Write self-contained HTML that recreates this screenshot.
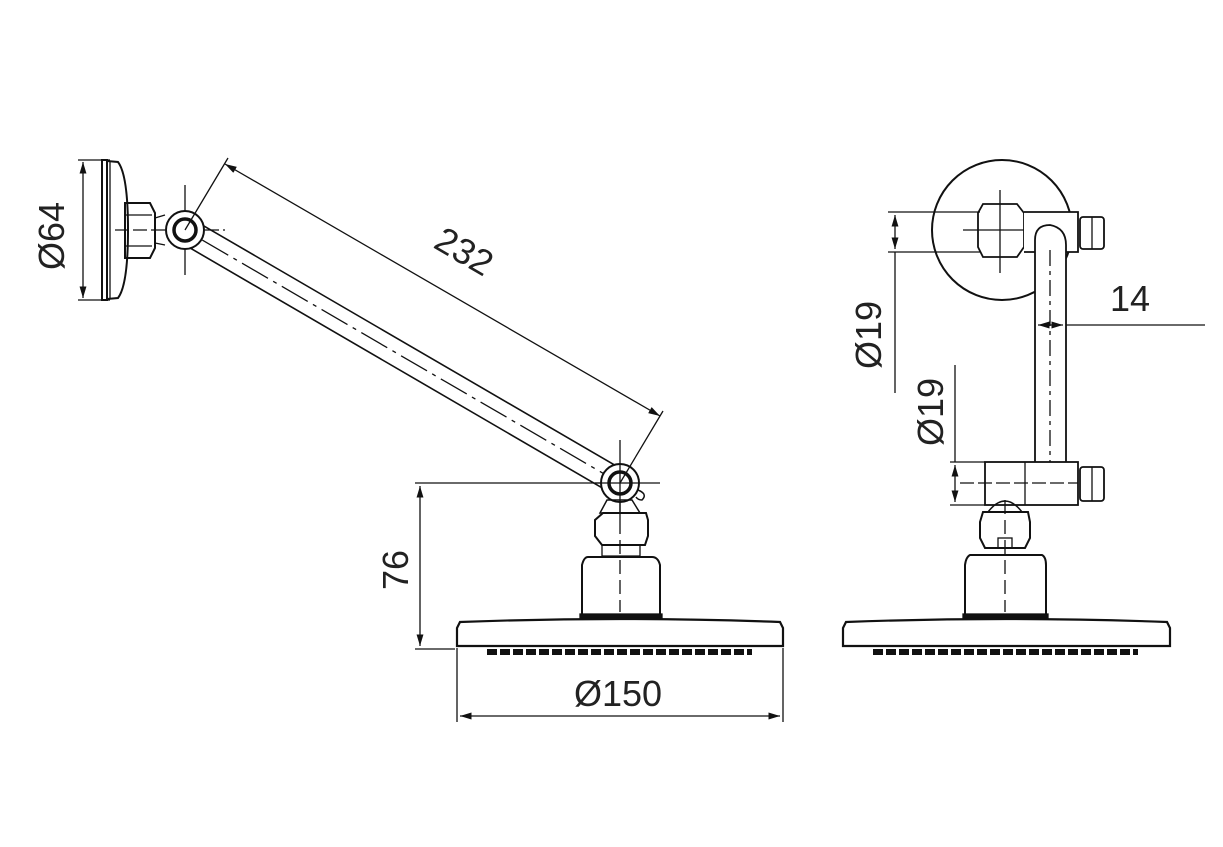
<!DOCTYPE html>
<html><head><meta charset="utf-8"><style>body{margin:0;background:#fff}svg{display:block}text{font-family:"Liberation Sans",sans-serif;fill:#222}</style></head>
<body>
<svg width="1223" height="847" viewBox="0 0 1223 847" xmlns="http://www.w3.org/2000/svg">
<defs><marker id="a" viewBox="0 0 10 10" refX="10" refY="5" markerWidth="9" markerHeight="9" orient="auto-start-reverse"><path d="M0,2 L10,5 L0,8z" fill="#111"/></marker></defs>
<g stroke="#111" fill="none" stroke-width="1.3">
<line x1="78" y1="160" x2="110" y2="160"/><line x1="78" y1="300" x2="110" y2="300"/>
<line x1="83" y1="162" x2="83" y2="298" marker-start="url(#a)" marker-end="url(#a)"/>
<rect x="102" y="160" width="5" height="140" stroke-width="2"/>
<path d="M107,161 L118,162 Q128,175 128,230 Q128,285 118,298 L107,299" stroke-width="2"/>
<line x1="110" y1="162" x2="110" y2="298"/>
<path d="M125,203 L150,203 L155,213 L155,248 L150,258 L125,258 Z" stroke-width="2"/>
<line x1="125" y1="215" x2="152" y2="215"/><line x1="125" y1="246" x2="152" y2="246"/>
<path d="M155,218 L165,215 M155,243 L165,245"/>
<line x1="115" y1="230" x2="225" y2="230" stroke-dasharray="14,4"/>
<line x1="185" y1="185" x2="185" y2="275"/>
<g transform="translate(185,230) rotate(30.2)">
<line x1="0" y1="-13" x2="503" y2="-13" stroke-width="1.6"/>
<line x1="0" y1="13" x2="503" y2="13" stroke-width="1.6"/>
<line x1="20" y1="0" x2="490" y2="0" stroke-dasharray="30,6,4,6"/>
</g>
<circle cx="185" cy="230" r="19" fill="#fff" stroke-width="2"/>
<circle cx="185" cy="230" r="11" stroke-width="3.5"/>
<circle cx="620" cy="483" r="19" fill="#fff" stroke-width="2"/>
<circle cx="620" cy="483" r="11" stroke-width="3.5"/>
<path d="M638,490 Q648,494 642,500 Q638,500 636,497" stroke-width="1.5"/>
<line x1="595" y1="483" x2="660" y2="483"/><line x1="620" y1="440" x2="620" y2="520"/>
<line x1="185" y1="230" x2="228" y2="158"/><line x1="620" y1="483" x2="663" y2="411"/>
<line x1="225" y1="164" x2="660" y2="416" marker-start="url(#a)" marker-end="url(#a)"/>
<line x1="415" y1="483" x2="600" y2="483"/><line x1="415" y1="649" x2="455" y2="649"/>
<line x1="420" y1="486" x2="420" y2="646" marker-start="url(#a)" marker-end="url(#a)"/>
<path d="M607,500 L632,500 L640,513 L600,513 Z" stroke-width="1.5"/>
<path d="M603,513 L646,513 L648,520 L648,536 L645,545 L602,545 L595,536 L595,520 Z" stroke-width="2"/>
<path d="M602,545 L640,545 L640,556 L602,556 Z"/>
<path d="M588,557 L652,557 Q658,557 660,565 L660,615 L582,615 L582,565 Q584,557 588,557 Z" stroke-width="2"/>
<rect x="580" y="614" width="82" height="4" fill="#111"/>
<path d="M460,622 Q620,616 780,622 L783,628 L783,646 L457,646 L457,628 Z" stroke-width="2.2"/>
<line x1="620" y1="500" x2="620" y2="612" stroke-dasharray="14,6"/>
<path d="M487,652 L752,652" stroke-width="6" stroke-dasharray="10,3"/>
<line x1="457" y1="648" x2="457" y2="722"/><line x1="783" y1="648" x2="783" y2="722"/>
<line x1="460" y1="716" x2="780" y2="716" marker-start="url(#a)" marker-end="url(#a)"/>
<circle cx="1002" cy="230" r="70" stroke-width="2"/>
<path d="M983,204 L1017,204 L1024,213 L1024,247 L1017,257 L983,257 L978,247 L978,213 Z" fill="#fff" stroke-width="1.8"/>
<line x1="1000" y1="190" x2="1000" y2="273"/><line x1="963" y1="230" x2="1040" y2="230"/>
<path d="M1024,212 L1078,212 L1078,252 L1024,252" fill="#fff" stroke-width="1.8"/>
<rect x="1080" y="217" width="24" height="32" rx="3" fill="#fff" stroke-width="1.8"/>
<line x1="1092" y1="217" x2="1092" y2="249"/>
<path d="M1035,500 L1035,240 Q1035,225 1050,225 Q1066,228 1066,245 L1066,500" fill="#fff" stroke-width="1.8"/>
<line x1="1050" y1="250" x2="1050" y2="490" stroke-dasharray="16,5,4,5"/>
<rect x="985" y="462" width="93" height="43" fill="#fff" stroke-width="1.8"/>
<line x1="1025" y1="462" x2="1025" y2="505"/>
<rect x="1080" y="467" width="24" height="34" rx="3" fill="#fff" stroke-width="1.8"/>
<line x1="1092" y1="467" x2="1092" y2="501"/>
<line x1="960" y1="483" x2="1078" y2="483" stroke-dasharray="14,4"/>
<line x1="888" y1="212" x2="980" y2="212"/><line x1="888" y1="252" x2="980" y2="252"/>
<line x1="895" y1="215" x2="895" y2="249" marker-start="url(#a)" marker-end="url(#a)"/>
<line x1="895" y1="252" x2="895" y2="393"/>
<line x1="950" y1="462" x2="985" y2="462"/><line x1="950" y1="505" x2="985" y2="505"/>
<line x1="955" y1="365" x2="955" y2="462"/>
<line x1="955" y1="465" x2="955" y2="502" marker-start="url(#a)" marker-end="url(#a)"/>
<line x1="1038" y1="325" x2="1063" y2="325" marker-start="url(#a)" marker-end="url(#a)"/>
<line x1="1066" y1="325" x2="1205" y2="325"/>
<path d="M988,512 Q1005,490 1022,512 Z" stroke-width="1.5"/>
<path d="M983,512 L1028,512 L1030,522 L1030,538 L1025,548 L985,548 L980,538 L980,522 Z" stroke-width="2"/>
<rect x="998" y="538" width="14" height="10"/>
<path d="M970,555 L1042,555 Q1046,557 1046,565 L1046,615 L965,615 L965,565 Q966,557 970,555 Z" stroke-width="2"/>
<rect x="963" y="614" width="85" height="4" fill="#111"/>
<path d="M846,622 Q1005,616 1167,622 L1170,628 L1170,646 L843,646 L843,628 Z" stroke-width="2.2"/>
<line x1="1005" y1="500" x2="1005" y2="612" stroke-dasharray="14,6"/>
<path d="M873,652 L1138,652" stroke-width="6" stroke-dasharray="10,3"/>
</g>
<g font-size="36">
<text transform="translate(64,236) rotate(-90)" text-anchor="middle">Ø64</text>
<text transform="translate(458,262) rotate(30.2)" text-anchor="middle">232</text>
<text transform="translate(408,570) rotate(-90)" text-anchor="middle">76</text>
<text x="618" y="706" text-anchor="middle">Ø150</text>
<text transform="translate(881,335) rotate(-90)" text-anchor="middle">Ø19</text>
<text transform="translate(943,412) rotate(-90)" text-anchor="middle">Ø19</text>
<text x="1130" y="311" text-anchor="middle">14</text>
</g>
</svg>
</body></html>
